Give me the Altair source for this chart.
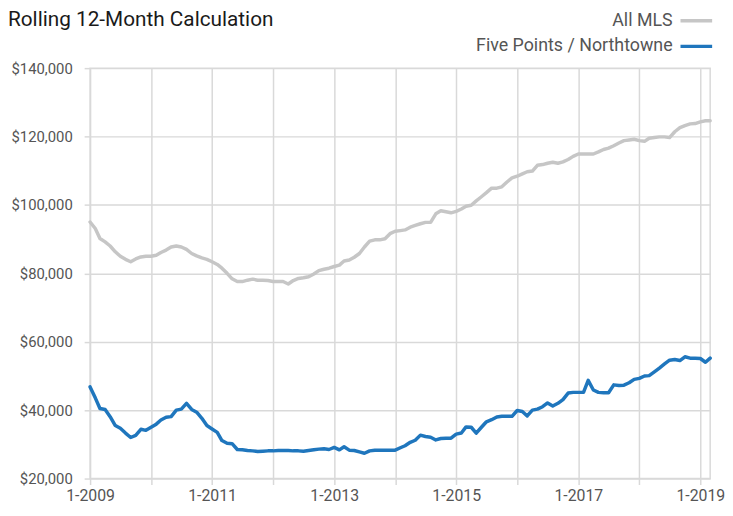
import altair as alt
import pandas as pd

FONT = "Roboto"

series_names = ["All MLS", "Five Points / Northtowne"]
series_colors = ["#c6c6c6", "#1f76bd"]

all_mls = [
    95000, 93100, 90200, 89200, 88000, 86300, 85000, 84100, 83400, 84200, 84800, 85000,
    85000, 85300, 86100, 86800, 87700, 88000, 87700, 87000, 85800, 85100, 84500, 84100,
    83400, 82600, 81500, 80000, 78400, 77600, 77600, 78000, 78300, 78000, 78000, 77900,
    77600, 77600, 77600, 76900, 77900, 78500, 78700, 79000, 79800, 80800, 81200, 81500,
    82000, 82400, 83600, 83900, 84700, 85800, 87700, 89400, 89800, 89800, 90100, 91600,
    92300, 92500, 92700, 93500, 94000, 94500, 94900, 94900, 97400, 98300, 98000, 97700,
    98100, 98800, 99600, 99900, 101200, 102400, 103600, 104900, 104900, 105300, 106700, 107900,
    108400, 109100, 109700, 109900, 111600, 111800, 112200, 112500, 112200, 112600, 113300, 114200,
    114900, 114900, 114900, 114900, 115500, 116200, 116600, 117300, 118100, 118800, 119000, 119200,
    118800, 118600, 119500, 119700, 119900, 119900, 119700, 121400, 122600, 123200, 123700, 123800,
    124300, 124600, 124600,
]

five_points = [
    46800, 43600, 40500, 40200, 38100, 35500, 34700, 33300, 32000, 32600, 34400, 34100,
    35000, 35900, 37100, 37900, 38100, 40000, 40300, 42000, 40200, 39400, 37600, 35500,
    34500, 33500, 31100, 30300, 30200, 28500, 28400, 28200, 28100, 27900, 28000, 28100,
    28100, 28200, 28200, 28200, 28100, 28100, 28000, 28200, 28400, 28600, 28700, 28500,
    29100, 28400, 29300, 28300, 28200, 27800, 27400, 28100, 28300, 28300, 28300, 28300,
    28300, 29000, 29600, 30600, 31200, 32700, 32300, 32100, 31300, 31700, 31800, 31800,
    33000, 33300, 35100, 35000, 33300, 35000, 36600, 37200, 38000, 38200, 38200, 38200,
    39900, 39600, 38300, 40000, 40300, 41000, 42100, 41200, 42000, 43100, 45000, 45200,
    45200, 45200, 48700, 45900, 45200, 45100, 45100, 47400, 47200, 47300, 48000, 49000,
    49300, 50000, 50100, 51200, 52300, 53500, 54600, 54800, 54500, 55600, 55200, 55200,
    55100, 54000, 55200,
]

months = pd.date_range("2009-01-01", periods=len(all_mls), freq="MS").strftime("%Y-%m-%d").tolist()
year_ticks = list(range(2009, 2020))
y_ticks = [20000, 40000, 60000, 80000, 100000, 120000, 140000]

df = pd.DataFrame({
    "date": months * 2,
    "value": all_mls + five_points,
    "series": [series_names[0]] * len(all_mls) + [series_names[1]] * len(five_points),
})

GRID = "#d9d9d9"
LABEL = "#555555"

x_enc = alt.X(
    "date:T",
    scale=alt.Scale(type="utc", domain=[alt.DateTime(year=2009, month=1, date=1, utc=True),
                                        alt.DateTime(year=2019, month=3, date=1, utc=True)], nice=False),
    axis=alt.Axis(
        values=[alt.DateTime(year=y, month=1, date=1, utc=True) for y in year_ticks],
        labelExpr="utcyear(datum.value) % 2 == 1 ? '1-' + utcyear(datum.value) : ''",
        title=None, grid=True, gridColor=GRID, gridWidth=1.5, domain=False,
        tickColor=GRID, tickWidth=1.5, tickSize=6, labelPadding=3, labelFlush=False,
        labelOverlap=False,
        labelFont=FONT, labelFontSize=16, labelColor=LABEL,
    ),
)
y_enc = alt.Y(
    "value:Q",
    scale=alt.Scale(domain=[20000, 140000], nice=False, zero=False),
    axis=alt.Axis(
        values=y_ticks, format="$,.0f", title=None, grid=True, gridColor=GRID, gridWidth=1.5,
        domain=False, tickColor=GRID, tickWidth=1.5, tickSize=6, labelPadding=12,
        labelFlush=False,
        labelFont=FONT, labelFontSize=15, labelColor=LABEL,
    ),
)

lines = alt.Chart(df).mark_line(strokeWidth=3.5, strokeJoin="round", strokeCap="round").encode(
    x=x_enc,
    y=y_enc,
    color=alt.Color("series:N", scale=alt.Scale(domain=series_names, range=series_colors), legend=None),
)

one = pd.DataFrame({"k": [0]})

title = alt.Chart(one).mark_text(
    text="Rolling 12-Month Calculation", align="left", baseline="alphabetic",
    font=FONT, fontSize=21, color="#1a1a1a",
).encode(x=alt.value(-83), y=alt.value(-43))

legend_layers = []
for i, (name, col) in enumerate(zip(series_names, series_colors)):
    ypos = -48 + 26 * i
    legend_layers.append(
        alt.Chart(one).mark_text(
            text=name, align="right", baseline="middle", font=FONT, fontSize=18, color=LABEL,
        ).encode(x=alt.value(589), y=alt.value(ypos))
    )
    legend_layers.append(
        alt.Chart(one).mark_rule(color=col, strokeWidth=3.5).encode(
            x=alt.value(597), x2=alt.value(629), y=alt.value(ypos)
        )
    )

chart = alt.layer(lines, title, *legend_layers).properties(
    width=627, height=415,
    autosize=alt.AutoSizeParams(type="none"),
    padding={"left": 83, "top": 58, "right": 15, "bottom": 30},
).configure_view(stroke=GRID, strokeWidth=1.5)

chart.save("out.html", embed_options={"renderer": "svg", "actions": False})
